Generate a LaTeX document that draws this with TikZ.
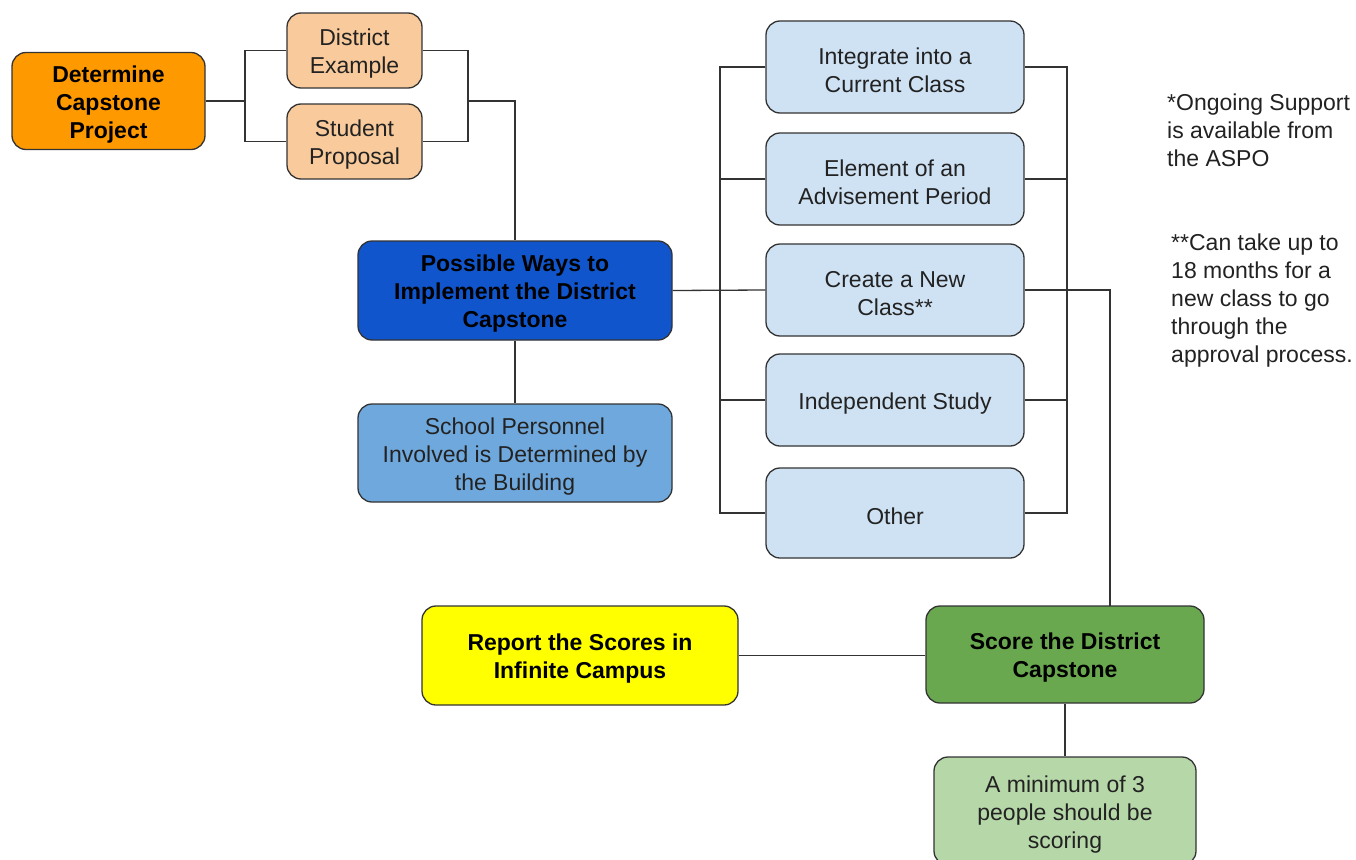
\documentclass[tikz,border=0pt]{standalone}
\usepackage{fontspec}
\setmainfont{Liberation Sans}
\definecolor{corange}{HTML}{FF9900}
\definecolor{cpeach}{HTML}{F9CB9C}
\definecolor{cblue}{HTML}{1155CC}
\definecolor{cmblue}{HTML}{6FA8DC}
\definecolor{clblue}{HTML}{CFE2F3}
\definecolor{cgreen}{HTML}{6AA84F}
\definecolor{clgreen}{HTML}{B6D7A8}
\definecolor{cyellow}{HTML}{FFFF00}
\definecolor{cline}{HTML}{333333}
\definecolor{ctext}{HTML}{222222}
\newcommand\tup{\rule{0pt}{23pt}}
\begin{document}
\begin{tikzpicture}[x=1pt,y=-1pt,
  box/.style={draw=cline, line width=1.3pt, rounded corners=14pt, align=center,
    inner sep=0pt, text=ctext, font=\fontsize{23}{28}\selectfont},
  boldbox/.style={box, text=black, font=\fontsize{23}{28}\selectfont\bfseries},
  conn/.style={draw=cline, line width=1.3pt},
  note/.style={anchor=north west, align=left, inner sep=0pt, text=ctext,
    font=\fontsize{23}{28}\selectfont}]
\useasboundingbox (0,0) rectangle (1356,859);
% nodes
\node[boldbox, fill=corange, minimum width=193pt, minimum height=97pt] (det) at (108.5,101) {\tup Determine\\Capstone\\Project};
\node[box, fill=cpeach, minimum width=135pt, minimum height=75pt] (dex) at (354.5,50.5) {\tup District\\Example};
\node[box, fill=cpeach, minimum width=135pt, minimum height=75pt] (spr) at (354.5,141.5) {\tup Student\\Proposal};
\node[boldbox, fill=cblue, minimum width=314pt, minimum height=99pt] (pw) at (515,290.5) {\tup Possible Ways to\\Implement the District\\Capstone};
\node[box, fill=cmblue, minimum width=314pt, minimum height=98pt] (sch) at (515,453) {\tup School Personnel\\Involved is Determined by\\the Building};
\node[box, fill=clblue, minimum width=258pt, minimum height=92pt] (c1) at (895,67) {\tup Integrate into a\\Current Class};
\node[box, fill=clblue, minimum width=258pt, minimum height=92pt] (c2) at (895,179) {\tup Element of an\\Advisement Period};
\node[box, fill=clblue, minimum width=258pt, minimum height=92pt] (c3) at (895,290) {\tup Create a New\\Class**};
\node[box, fill=clblue, minimum width=258pt, minimum height=92pt] (c4) at (895,400) {\tup Independent Study};
\node[box, fill=clblue, minimum width=258pt, minimum height=90pt] (c5) at (895,513) {\tup Other};
\node[boldbox, fill=cgreen, minimum width=278pt, minimum height=97pt] (score) at (1065,654.5) {\tup Score the District\\Capstone};
\node[box, fill=clgreen, minimum width=262pt, minimum height=108pt] (minn) at (1065,811) {\tup A minimum of 3\\people should be\\scoring};
\node[boldbox, fill=cyellow, minimum width=316pt, minimum height=99pt] (rep) at (580,655.5) {\tup Report the Scores in\\Infinite Campus};
% notes
\node[note] (n1) at (1167,94) {*Ongoing Support\\is available from\\the ASPO};
\node[note] (n2) at (1171,234) {**Can take up to\\18 months for a\\new class to go\\through the\\approval process.};
% connectors
\coordinate (j1) at (245,101);
\draw[conn] (det.east) -- (j1);
\draw[conn] (dex.west) -| (j1) |- (spr.west);
\coordinate (j2) at (468,101);
\draw[conn] (dex.east) -| (j2) |- (spr.east);
\draw[conn] (j2) -| (pw.north);
\draw[conn] (pw.south) -- (sch.north);
\coordinate (lt) at (720,67);
\coordinate (lb) at (720,513);
\draw[conn] (c1.west) -- (lt) -- (lb) -- (c5.west);
\draw[conn] (c2.west) -- (c2.west -| lt);
\draw[conn] (c4.west) -- (c4.west -| lt);
\draw[conn] (pw.east) -- (c3.west);
\coordinate (rt) at (1067,67);
\coordinate (rb) at (1067,513);
\draw[conn] (c1.east) -- (rt) -- (rb) -- (c5.east);
\draw[conn] (c2.east) -- (c2.east -| rt);
\draw[conn] (c4.east) -- (c4.east -| rt);
\coordinate (sn) at (1110,606);
\draw[conn] (c3.east) -| (sn);
\draw[conn] (score.south) -- (minn.north);
\draw[conn] (rep.east) -- (rep.east -| score.west);
\end{tikzpicture}
\end{document}
